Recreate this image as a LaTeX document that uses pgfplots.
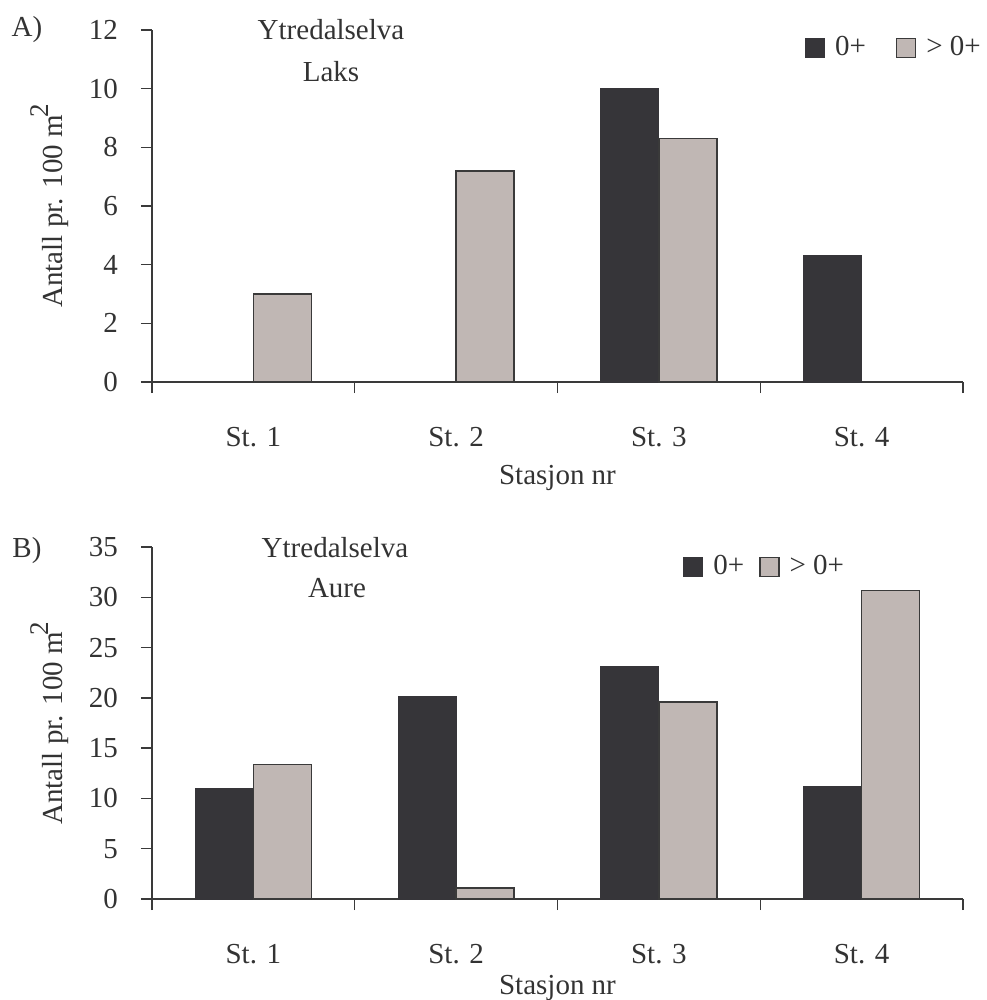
\documentclass[border=0pt]{standalone}
\usepackage{pgfplots}
\pgfplotsset{compat=1.18}
\usepackage{fontspec}
\setmainfont{Liberation Serif}
\definecolor{darkbar}{HTML}{363539}
\definecolor{lightbar}{HTML}{C0B7B4}
\definecolor{edge}{HTML}{3A3A3A}
\definecolor{txt}{HTML}{333333}
\pgfplotsset{
  myaxis/.style={
    scale only axis, width=811pt, height=352pt,
    anchor=south west,
    axis x line*=bottom, axis y line*=left,
    axis line style={edge, line width=1.6pt},
    xmin=-0.5, xmax=3.5, ymin=0,
    xtick={0,1,2,3}, xticklabels={St. 1,St. 2,St. 3,St. 4},
    minor xtick={-0.5,0.5,1.5,2.5,3.5},
    major x tick style={draw=none},
    tick align=outside, major tick length=11pt, minor tick length=11pt,
    tick style={edge, line width=1.4pt},
    /pgf/number format/assume math mode=true,
    ticklabel style={font=\fontsize{29}{33}\selectfont, text=txt},
    label style={font=\fontsize{29}{33}\selectfont, text=txt},
    xticklabel style={anchor=center, yshift=-44pt},
    yticklabel style={anchor=east, inner sep=0pt, xshift=-23pt},
    xlabel={Stasjon nr},
    ylabel={Antall pr. 100 m\raisebox{0.5em}{\kern-3pt\fontsize{27}{27}\selectfont 2}},
    ylabel style={at={(axis description cs:-0.126,0.5)}, anchor=center},
    ybar, bar width=0.286,
    legend columns=2,
    legend image code/.code={\draw[#1] (-29pt,-9.5pt) rectangle (-10pt,9.5pt); \path (0pt,0pt);},
    legend style={draw=none, fill=none, inner sep=0pt, font=\fontsize{29}{33}\selectfont, text=txt,
      nodes={inner sep=0pt}},
  },
  darkstyle/.style={fill=darkbar, draw=darkbar, line width=1pt, bar shift=-0.143},
  lightstyle/.style={fill=lightbar, draw=edge, line width=1.4pt, bar shift=0.143},
}
\begin{document}
\fontsize{29}{33}\selectfont
\begin{tikzpicture}[x=1pt,y=1pt]
\useasboundingbox (0,0) rectangle (986,-1000);
\begin{axis}[myaxis, at={(152pt,-382pt)}, ymax=12, ytick={0,2,...,12},
  xlabel style={at={(axis description cs:0.5,-0.272)}, anchor=center},
  legend style={at={(axis description cs:0.805,0.949)}, anchor=west,
    /tikz/every even column/.append style={column sep=30pt}}]
\addplot[darkstyle] coordinates {(2,10.0) (3,4.3)};
\addplot[lightstyle] coordinates {(0,3.0) (1,7.2) (2,8.3)};
\legend{0+,{> 0+}}
\end{axis}
\begin{axis}[myaxis, at={(152pt,-899pt)}, ymax=35, ytick={0,5,...,35},
  xlabel style={at={(axis description cs:0.5,-0.254)}, anchor=center},
  legend style={at={(axis description cs:0.655,0.943)}, anchor=west,
    /tikz/every even column/.append style={column sep=15pt}}]
\addplot[darkstyle] coordinates {(0,11.0) (1,20.1) (2,23.1) (3,11.2)};
\addplot[lightstyle] coordinates {(0,13.4) (1,1.1) (2,19.6) (3,30.7)};
\legend{0+,{> 0+}}
\end{axis}
\node[anchor=base, text=txt] at (27,-37) {A)};
\node[anchor=base, text=txt] at (27,-557) {B)};
\node[anchor=base, text=txt] at (331,-40) {Ytredalselva};
\node[anchor=base, text=txt] at (331,-82) {Laks};
\node[anchor=base, text=txt] at (335,-557) {Ytredalselva};
\node[anchor=base, text=txt] at (337,-597) {Aure};
\end{tikzpicture}
\end{document}
